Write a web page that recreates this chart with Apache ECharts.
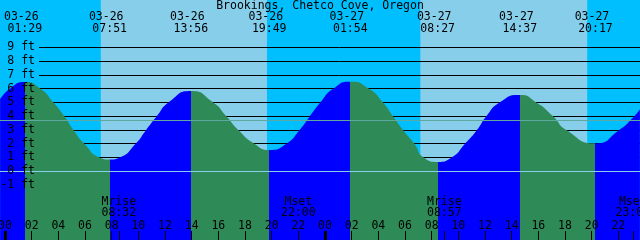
<!DOCTYPE html>
<html style="height: 100%">
<head>
    <meta charset="utf-8">
    <title>Brookings, Chetco Cove, Oregon</title>
    <script type="text/javascript" src="https://cdn.jsdelivr.net/npm/echarts@6/dist/echarts.min.js"></script>
</head>
<body style="width: 100%;margin: 0;height: 100%">
<div id="container" style="width: 640px;height: 240px"></div>

<script type="application/javascript">

    // tide events
    var tideDates = ['03-26', '03-26', '03-26', '03-26', '03-27', '03-27', '03-27', '03-27'];
    var tideTimes = ['01:29', '07:51', '13:56', '19:49', '01:54', '08:27', '14:37', '20:17'];
    var tideKinds = ['high', 'low', 'high', 'low', 'high', 'low', 'high', 'low'];
    var tideFeet = [6.49, 0.85, 5.83, 1.55, 6.51, 0.68, 5.54, 2.03];

    // where the curve meets the foot lines, plus the two picture edges
    var crossDates = ['03-26', '03-26', '03-26', '03-26', '03-26', '03-26', '03-26', '03-26',
        '03-26', '03-26', '03-26', '03-26', '03-26', '03-26', '03-26', '03-26', '03-26',
        '03-26', '03-26', '03-26', '03-26', '03-26', '03-27', '03-27', '03-27', '03-27',
        '03-27', '03-27', '03-27', '03-27', '03-27', '03-27', '03-27', '03-27', '03-27',
        '03-27', '03-27', '03-27', '03-27'];
    var crossTimes = ['-00:22', '00:22', '02:39', '03:38', '04:27', '05:08', '05:57', '07:06',
        '08:36', '09:48', '10:35', '11:23', '12:16', '15:37', '16:36', '17:30', '18:42',
        '21:06', '22:06', '22:52', '23:39', '24:37', '03:18', '04:21', '05:06', '05:51',
        '06:42', '07:24', '09:30', '10:30', '11:24', '12:06', '13:06', '15:51', '17:06',
        '18:06', '22:04', '23:12', '23:37'];
    var crossFeet = [5.23, 6.0, 6.0, 5.0, 4.0, 3.0, 2.0, 1.0,
        1.0, 2.0, 3.0, 4.0, 5.0, 5.0, 4.0, 3.0, 2.0,
        2.0, 3.0, 4.0, 5.0, 6.0, 6.0, 5.0, 4.0, 3.0,
        2.0, 1.0, 1.0, 2.0, 3.0, 4.0, 5.0, 5.0, 4.0,
        3.0, 3.0, 4.0, 4.5];

    var sunRise = [['03-26', '07:11'], ['03-27', '07:09']];
    var sunSet = [['03-26', '19:39'], ['03-27', '19:40']];

    var moonNames = ['Mrise', 'Mset', 'Mrise', 'Mset'];
    var moonDates = ['03-26', '03-26', '03-27', '03-27'];
    var moonTimes = ['08:32', '22:00', '08:57', '23:05'];

    var hourTicks = [0, 2, 4, 6, 8, 10, 12, 14, 16, 18, 20, 22, 24, 26, 28, 30, 32, 34, 36, 38, 40, 42, 44, 46];
    var dayTicks = [0, 24];
    var footLabels = [-1, 0, 1, 2, 3, 4, 5, 6, 7, 8, 9];
    var footLines = [1, 2, 3, 4, 5, 6, 7, 8, 9];
    var meanFeet = 3.7;

    var hourMin = -0.375, hourMax = 47.625;
    var footMin = -5, footMax = 12.45;

    var font = 'DejaVu Sans Mono';

    function toHours(date, time) {
        var neg = time.charAt(0) === '-';
        var t = neg ? time.substring(1) : time;
        var p = t.split(':');
        var h = parseInt(p[0], 10) + parseInt(p[1], 10) / 60;
        return (date === '03-27' ? 24 : 0) + (neg ? -h : h);
    }

    var tideHours = [];
    for (var i = 0; i < tideTimes.length; i++) {
        tideHours[i] = toHours(tideDates[i], tideTimes[i]);
    }

    var curve = [];
    for (var i = 0; i < tideHours.length; i++) {
        curve.push([tideHours[i], tideFeet[i]]);
    }
    for (var i = 0; i < crossTimes.length; i++) {
        curve.push([toHours(crossDates[i], crossTimes[i]), crossFeet[i]]);
    }
    curve.sort(function (a, b) { return a[0] - b[0]; });

    var dayBands = [];
    for (var i = 0; i < sunRise.length; i++) {
        dayBands.push([toHours(sunRise[i][0], sunRise[i][1]), toHours(sunSet[i][0], sunSet[i][1])]);
    }

    var moonHours = [];
    for (var i = 0; i < moonTimes.length; i++) {
        moonHours[i] = toHours(moonDates[i], moonTimes[i]);
    }

    // rising = blue, falling = green
    var pieces = [];
    var prev = null;
    for (var i = 0; i < tideHours.length; i++) {
        var piece = {lt: tideHours[i], color: tideKinds[i] === 'high' ? '#0000ff' : '#2e8b57'};
        if (prev !== null) piece.gte = prev;
        pieces.push(piece);
        prev = tideHours[i];
    }
    pieces.push({gte: prev, color: tideKinds[tideKinds.length - 1] === 'high' ? '#2e8b57' : '#0000ff'});

    // black lines only for 1..9 ft
    var lineColors = [];
    for (var v = footMin; v <= footMax + 1; v++) {
        lineColors.push(footLines.indexOf(v) >= 0 ? '#000000' : 'rgba(0,0,0,0)');
    }

    function findIndex(list, v) {
        for (var i = 0; i < list.length; i++) {
            if (Math.abs(list[i] - v) < 1e-6) return i;
        }
        return -1;
    }

    var noLine = {show: false, onZero: false};

    var option = {
        animation: false,
        backgroundColor: '#00bfff',
        title: {
            text: 'Brookings, Chetco Cove, Oregon',
            left: 'center',
            top: 0,
            padding: 0,
            textStyle: {fontFamily: font, fontSize: 11.5, fontWeight: 'normal', color: '#000'}
        },
        grid: [
            {left: 0, right: 0, top: 0, bottom: 0, outerBoundsMode: 'none', containLabel: false},
            {left: 39, right: 0, top: 0, bottom: 0, outerBoundsMode: 'none', containLabel: false}
        ],
        visualMap: {
            type: 'piecewise',
            show: false,
            dimension: 0,
            seriesIndex: 1,
            pieces: pieces
        },
        xAxis: [
            {
                type: 'value', gridIndex: 0, min: hourMin, max: hourMax, position: 'bottom', z: 10,
                axisLine: noLine,
                splitLine: {show: false},
                axisTick: {inside: true, length: 9, customValues: hourTicks, lineStyle: {color: '#000', width: 1}},
                axisLabel: {
                    inside: true, margin: 14, verticalAlign: 'middle', customValues: hourTicks,
                    fontFamily: font, fontSize: 11.5, color: '#000',
                    formatter: function (v) {
                        var h = Math.round(v) % 24;
                        return (h < 10 ? '0' : '') + h;
                    }
                }
            },
            {
                type: 'value', gridIndex: 0, min: hourMin, max: hourMax, position: 'bottom', z: 10,
                axisLine: noLine,
                splitLine: {show: false},
                axisTick: {inside: true, length: 9, customValues: dayTicks, lineStyle: {color: '#000', width: 3}},
                axisLabel: {show: false}
            },
            {
                type: 'value', gridIndex: 0, min: hourMin, max: hourMax, position: 'bottom', z: 10,
                axisLine: noLine,
                splitLine: {show: false},
                axisTick: {inside: true, length: 9, customValues: moonHours, lineStyle: {color: '#000', width: 1}},
                axisLabel: {
                    inside: true, margin: 32.5, verticalAlign: 'middle', customValues: moonHours,
                    fontFamily: font, fontSize: 11.5, color: '#000', lineHeight: 11, align: 'center',
                    formatter: function (v) {
                        var i = findIndex(moonHours, v);
                        return moonNames[i] + '\n' + moonTimes[i];
                    }
                }
            },
            {
                type: 'value', gridIndex: 0, min: hourMin, max: hourMax, position: 'top', z: 10,
                axisLine: noLine,
                splitLine: {show: false},
                axisTick: {show: false},
                axisLabel: {
                    inside: true, margin: 23.5, verticalAlign: 'middle', customValues: tideHours,
                    fontFamily: font, fontSize: 11.5, color: '#000', lineHeight: 12, align: 'center',
                    formatter: function (v) {
                        var i = findIndex(tideHours, v);
                        return tideDates[i] + ' \n' + tideTimes[i];
                    }
                }
            },
            {
                type: 'value', gridIndex: 1, min: hourMin, max: hourMax, show: false, axisLine: noLine
            }
        ],
        yAxis: [
            {
                type: 'value', gridIndex: 0, min: footMin, max: footMax, position: 'left', z: 10,
                axisLine: noLine,
                axisTick: {show: false},
                splitLine: {show: false},
                axisLabel: {
                    inside: true, margin: 35, align: 'right', verticalAlign: 'middle', customValues: footLabels,
                    fontFamily: font, fontSize: 11.5, color: '#000',
                    formatter: function (v) { return v + ' ft'; }
                }
            },
            {
                type: 'value', gridIndex: 1, min: footMin, max: footMax, interval: 1, z: 2,
                axisLine: noLine,
                axisTick: {show: false},
                axisLabel: {show: false},
                splitLine: {show: true, lineStyle: {color: lineColors, width: 1}}
            }
        ],
        series: [
            {
                name: 'daylight',
                type: 'custom',
                xAxisIndex: 0,
                yAxisIndex: 0,
                z: 1,
                silent: true,
                data: dayBands,
                encode: {x: [0, 1]},
                renderItem: function (params, api) {
                    var a = api.coord([api.value(0), 0]);
                    var b = api.coord([api.value(1), 0]);
                    return {
                        type: 'rect',
                        shape: {x: a[0], y: params.coordSys.y, width: b[0] - a[0], height: params.coordSys.height},
                        style: {fill: '#87ceeb'}
                    };
                }
            },
            {
                name: 'tide',
                type: 'line',
                xAxisIndex: 0,
                yAxisIndex: 0,
                z: 3,
                data: curve,
                smooth: 0.6,
                showSymbol: false,
                symbol: 'none',
                silent: true,
                lineStyle: {width: 0},
                areaStyle: {opacity: 1, origin: 'start'},
                markLine: {
                    silent: true,
                    symbol: 'none',
                    label: {show: false},
                    data: [
                        {yAxis: 0, lineStyle: {color: '#87ceeb', width: 1, type: 'solid'}},
                        {yAxis: meanFeet, lineStyle: {color: '#5fa8a0', width: 1, type: 'solid'}}
                    ]
                }
            }
        ]
    };

    var dom = document.getElementById("container");
    var myChart = echarts.init(dom);
    myChart.setOption(option);
</script>

</body>
</html>
